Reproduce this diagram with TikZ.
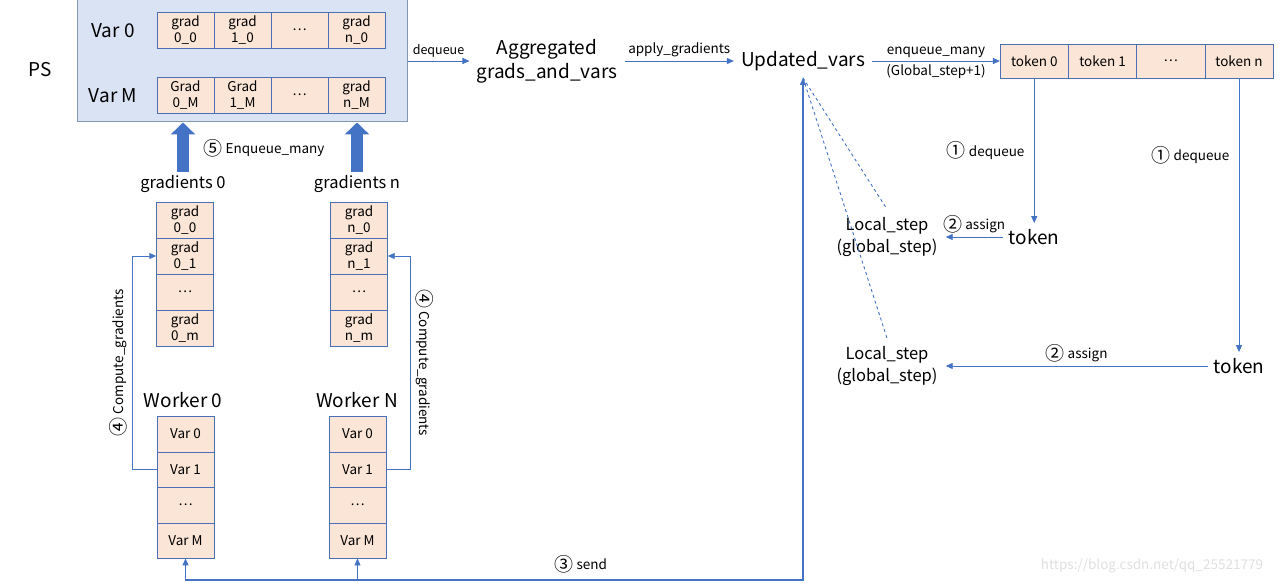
\documentclass[tikz,border=0pt]{standalone}
\usepackage{fontspec}
\setmainfont{Noto Sans CJK SC}
\usepackage{xcolor}
\usetikzlibrary{positioning, arrows.meta}
\definecolor{psfill}{HTML}{DAE3F3}
\definecolor{psline}{HTML}{8497B0}
\definecolor{cellfill}{HTML}{FBE5D6}
\definecolor{cellline}{HTML}{4A6FB5}
\definecolor{flowblue}{HTML}{4472C4}
\newcommand{\circled}[1]{\raisebox{-1.5pt}{\fontsize{19}{16}\selectfont #1}}

\begin{document}
\begin{tikzpicture}[x=1pt, y=-1pt,
  big/.style={font=\fontsize{19}{24}\selectfont, align=center},
  mid/.style={font=\fontsize{16.5}{22}\selectfont, align=center},
  small/.style={font=\fontsize{13.5}{16}\selectfont},
  cell/.style={draw=cellline, fill=cellfill, minimum width=57, minimum height=36, inner sep=0, align=center, font=\fontsize{13.5}{16}\selectfont},
  flow/.style={draw=flowblue, line width=0.9pt, -{Triangle[length=7pt,width=6pt]}},
  dashline/.style={draw=flowblue, line width=0.9pt, dashed},
  block/.style={draw=flowblue, line width=12pt, -{Triangle[length=12pt,width=24pt]}}]

\useasboundingbox (0,0) rectangle (1280,583);

\node [draw=psline, fill=psfill, line width=1pt, minimum width=330, minimum height=122, inner sep=0](ps box) at (242,61) {};
\node [big](ps) at (40,70) {PS};
\node [big](var 0) at (113,31) {Var 0};
\node [big](var M) at (113,96) {Var M};
\foreach \txt [count=\i] in {{grad\\0\_0},{grad\\1\_0},\dots,{grad\\n\_0}}
  \node [cell](ps0 \i) at (128.5+57*\i,30) {\txt};
\foreach \txt [count=\i] in {{Grad\\0\_M},{Grad\\1\_M},\dots,{grad\\n\_M}}
  \node [cell](psM \i) at (128.5+57*\i,95) {\txt};

\node [mid](grads 0) at (183,184) {gradients 0};
\node [mid](grads n) at (357,184) {gradients n};
\draw [block] (grads 0.north) -- (grads 0.north |- ps box.south);
\draw [block] (grads n.north) -- (grads n.north |- ps box.south);
\node [small](enqueue) at (264,148) {\circled{⑤} Enqueue\_many};

\foreach \txt [count=\i] in {{grad\\0\_0},{grad\\0\_1},\dots,{grad\\0\_m}}
  \node [cell](grad 0 \i) at (185,184+36*\i) {\txt};
\foreach \txt [count=\i] in {{grad\\n\_0},{grad\\n\_1},\dots,{grad\\n\_m}}
  \node [cell](grad n \i) at (359,184+36*\i) {\txt};

\node [big](worker 0) at (183,400) {Worker 0};
\node [big](worker N) at (357,400) {Worker N};
\foreach \txt [count=\i] in {Var 0,Var 1,\dots,Var M}
  \node [cell, minimum height=35.5](worker 0 \i) at (185.5,398.5+35.5*\i) {\txt};
\foreach \txt [count=\i] in {Var 0,Var 1,\dots,Var M}
  \node [cell, minimum height=35.5](worker N \i) at (357.5,398.5+35.5*\i) {\txt};

\draw [flow] (worker 0 2.west) -- ++(-24,0) |- node[small, pos=0.25, rotate=90, anchor=south, inner sep=5pt]{\circled{④} Compute\_gradients} (grad 0 2.west);
\draw [flow] (worker N 2.east) -- ++(24,0) |- node[small, pos=0.25, rotate=-90, anchor=south, inner sep=5pt]{\circled{④} Compute\_gradients} (grad n 2.east);

% top row
\node [big, inner sep=7pt](agg) at (547,61) {Aggregated\\grads\_and\_vars};
\node [big, inner sep=7pt](upd) at (803,61) {Updated\_vars};
\foreach \txt [count=\i] in {token 0,token 1,\dots,token n}
  \node [cell, minimum width=68.25, minimum height=34](tok \i) at (966+68.25*\i,61) {\txt};

\draw (ps box) edge[flow] node[small, above, font=\fontsize{12.5}{15}\selectfont]{dequeue} (agg);
\draw (agg) edge[flow] node[small, above]{apply\_gradients} (upd);
\draw (upd) edge[flow] node[small, above]{enqueue\_many} node[small, below]{(Global\_step+1)} (tok 1);

% tokens and local steps
\node [big, inner sep=6pt](token a) at (1034.25,237) {token};
\node [big, inner sep=6pt](token b) at (1239,366) {token};
\node [mid, inner sep=8pt](local a) at (887,237) {Local\_step\\(global\_step)};
\node [mid, inner sep=8pt](local b) at (887,366) {Local\_step\\(global\_step)};

\draw (tok 1.south) edge[flow] node[small, left=6pt]{\circled{①} dequeue} (token a);
\draw (tok 4.south) edge[flow] node[small, left=6pt, pos=0.28]{\circled{①} dequeue} (token b);
\draw (token a) edge[flow] node[small, above]{\circled{②} assign} (local a);
\draw (token b) edge[flow] node[small, above]{\circled{②} assign} (local b);
\draw [dashline] (upd.south) -- (local a.north);
\draw [dashline] (upd.south) -- (local b.north);

% send back to the workers
\coordinate (send line) at (0,580);
\draw [flow, {Triangle[length=7pt,width=6pt]}-{Triangle[length=7pt,width=6pt]}, line width=1.3pt] (worker 0 4.south) |- node[small, above, pos=0.82, yshift=3pt]{\circled{③} send} (send line -| upd.south) -- (upd.south);
\draw [flow] (send line -| worker N 4.south) -- (worker N 4.south);

\node [small, text=gray!25](mark) at (1152,566) {https://blog.csdn.net/qq\_25521779};
\end{tikzpicture}
\end{document}
